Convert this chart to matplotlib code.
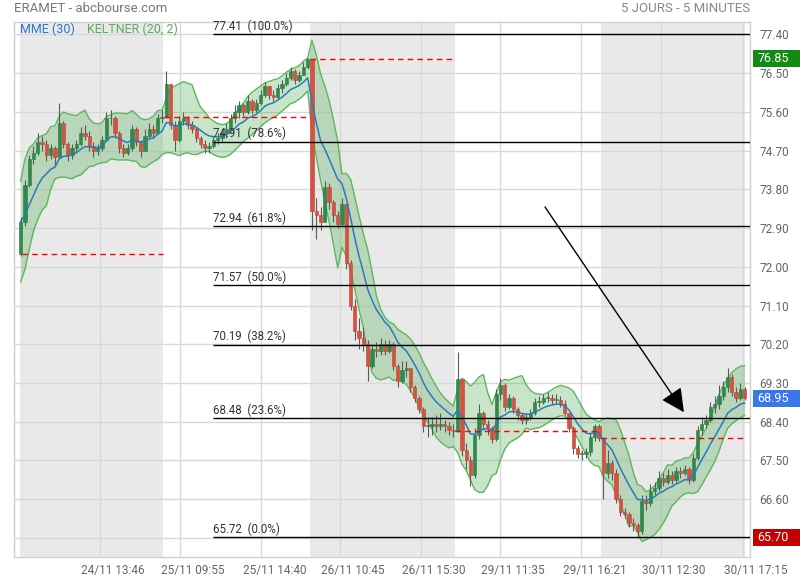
import numpy as np
import matplotlib
matplotlib.use("Agg")
import matplotlib.pyplot as plt
from matplotlib.transforms import ScaledTranslation
from matplotlib.patches import Rectangle

plt.rcParams['font.family'] = ['Roboto', 'DejaVu Sans']

# ---------------- data (15-minute candles, 34 per session) ----------------
PREV_CLOSE = 72.30

C1 = [73.05, 73.90, 74.50, 74.65, 74.90, 74.85, 74.60, 74.75, 74.55, 75.35, 74.85, 74.60, 74.75, 74.85, 75.10, 75.05, 74.80,
      74.70, 74.75, 74.95, 75.45, 75.45, 75.10, 74.75, 74.65, 74.75, 75.20, 74.90, 74.70, 75.05, 75.20, 75.10, 75.45, 75.49]
H1 = [73.15, 74.02, 74.60, 74.80, 75.12, 75.05, 74.95, 74.85, 74.80, 75.80, 75.40, 74.90, 74.85, 74.95, 75.25, 75.30, 75.15,
      74.90, 74.85, 75.05, 75.60, 75.65, 75.50, 75.15, 74.85, 74.85, 75.30, 75.25, 74.95, 75.20, 75.35, 75.30, 75.55, 75.65]
L1 = [72.25, 72.95, 73.85, 74.40, 74.60, 74.70, 74.45, 74.50, 74.35, 74.55, 74.75, 74.45, 74.50, 74.65, 74.80, 74.95, 74.70,
      74.55, 74.60, 74.70, 74.95, 75.30, 75.00, 74.65, 74.55, 74.60, 74.70, 74.80, 74.55, 74.70, 75.00, 75.00, 75.10, 75.35]

C2 = [76.25, 75.30, 74.95, 75.40, 75.45, 75.30, 75.20, 75.00, 74.85, 74.75, 74.80, 74.95, 75.00, 75.10, 75.20, 75.45, 75.60,
      75.75, 75.60, 75.85, 75.65, 75.80, 76.00, 76.20, 76.00, 75.95, 76.15, 76.25, 76.40, 76.55, 76.35, 76.45, 76.65, 76.84]
H2 = [76.55, 76.25, 75.40, 75.50, 75.60, 75.50, 75.40, 75.25, 75.05, 74.95, 74.90, 75.05, 75.10, 75.20, 75.35, 75.55, 75.75,
      75.85, 75.80, 76.00, 75.90, 75.90, 76.10, 76.30, 76.20, 76.10, 76.25, 76.35, 76.50, 76.65, 76.60, 76.55, 76.75, 76.85]
L2 = [75.45, 75.20, 74.70, 74.90, 75.30, 75.20, 75.10, 74.90, 74.75, 74.65, 74.65, 74.75, 74.85, 74.90, 75.00, 75.15, 75.35,
      75.45, 75.50, 75.55, 75.55, 75.60, 75.75, 75.95, 75.90, 75.85, 75.90, 76.05, 76.20, 76.35, 76.25, 76.30, 76.45, 76.60]

C3 = [73.30, 73.20, 73.05, 73.85, 73.50, 73.20, 73.00, 73.45, 72.10, 71.10, 70.50, 70.35, 70.20, 69.70, 70.10, 70.05, 70.20,
      70.05, 70.20, 69.70, 69.35, 69.60, 69.65, 69.20, 68.95, 68.70, 68.30, 68.30, 68.35, 68.30, 68.35, 68.30, 68.20, 68.19]
H3 = [76.84, 73.60, 73.40, 74.00, 73.95, 73.55, 73.30, 73.60, 73.45, 72.15, 71.25, 70.80, 70.60, 70.30, 70.20, 70.25, 70.35,
      70.30, 70.30, 70.25, 69.75, 69.80, 69.80, 69.60, 69.25, 69.00, 68.75, 68.50, 68.50, 68.55, 68.60, 68.45, 68.40, 68.35]
L3 = [72.85, 72.65, 72.85, 73.05, 73.35, 73.05, 72.90, 72.95, 71.95, 71.00, 70.30, 70.10, 70.05, 69.35, 69.65, 69.90, 69.95,
      69.95, 70.00, 69.60, 69.20, 69.30, 69.45, 69.10, 68.85, 68.60, 68.15, 68.05, 68.10, 68.15, 68.20, 68.15, 68.10, 68.05]

C4 = [69.40, 67.75, 67.50, 67.15, 68.10, 68.60, 68.35, 68.25, 68.00, 69.05, 69.25, 68.75, 68.95, 68.70, 68.55, 68.45, 68.50,
      68.60, 68.85, 68.85, 68.95, 68.95, 68.90, 68.90, 68.80, 68.60, 68.25, 67.80, 67.65, 67.65, 67.70, 68.05, 68.30, 68.02]
H4 = [70.02, 69.40, 67.90, 67.60, 68.25, 68.80, 68.65, 68.45, 68.30, 69.15, 69.42, 69.30, 69.05, 69.00, 68.75, 68.60, 68.60,
      68.70, 68.95, 69.00, 69.05, 69.10, 69.05, 69.05, 69.00, 68.90, 68.60, 68.30, 67.85, 67.75, 67.80, 68.15, 68.35, 68.35]
L4 = [68.15, 67.60, 67.30, 66.90, 67.10, 68.00, 68.20, 68.10, 67.90, 67.95, 68.90, 68.65, 68.70, 68.60, 68.45, 68.35, 68.35,
      68.45, 68.55, 68.75, 68.80, 68.85, 68.80, 68.80, 68.75, 68.55, 68.15, 67.65, 67.55, 67.50, 67.55, 67.60, 67.95, 67.95]

C5 = [67.20, 67.45, 67.20, 66.60, 66.30, 66.25, 66.05, 66.00, 65.85, 66.55, 66.50, 66.80, 66.85, 67.10, 67.00, 67.15, 67.05,
      67.25, 67.20, 67.30, 67.05, 67.55, 68.20, 68.35, 68.45, 68.75, 68.80, 69.00, 69.20, 69.45, 69.10, 68.95, 69.15, 68.95]
H5 = [68.05, 67.75, 67.50, 67.30, 66.70, 66.40, 66.30, 66.15, 66.05, 66.70, 66.70, 66.95, 67.00, 67.25, 67.20, 67.30, 67.25,
      67.35, 67.35, 67.40, 67.35, 67.65, 68.30, 68.50, 68.55, 68.85, 69.00, 69.25, 69.35, 69.65, 69.50, 69.20, 69.30, 69.20]
L5 = [66.60, 67.10, 67.05, 66.50, 66.20, 66.15, 65.95, 65.85, 65.70, 65.80, 66.35, 66.45, 66.70, 66.80, 66.90, 66.95, 66.95,
      67.00, 67.10, 67.15, 66.95, 67.00, 67.50, 68.10, 68.25, 68.40, 68.60, 68.70, 68.90, 69.10, 69.00, 68.85, 68.90, 68.90]

FIB_LEVELS = [77.41, 74.91, 72.94, 71.57, 70.19, 68.48, 65.72]
FIB_PCTS = [100.0, 78.6, 61.8, 50.0, 38.2, 23.6, 0.0]

XTICK_BARS = [57.2, 113, 170, 225, 282, 337, 394.2, 450, 507]
XTICK_LABELS = ['24/11 13:46', '25/11 09:55', '25/11 14:40', '26/11 10:45', '26/11 15:30',
                '29/11 11:35', '29/11 16:21', '30/11 12:30', '30/11 17:15']
YTICKS = [65.70 + 0.9 * k for k in range(14)]

ARROW_FROM = (368.7, 73.39)
ARROW_TO = (466.0, 68.62)

# ---------------- derived ----------------
close = np.array(C1 + C2 + C3 + C4 + C5)
high = np.array(H1 + H2 + H3 + H4 + H5)
low = np.array(L1 + L2 + L3 + L4 + L5)
opn = np.concatenate([[PREV_CLOSE], close[:-1]])
n = len(close)
BARS_PER_CANDLE = 3
PER_DAY = 34
xc = np.arange(n) * BARS_PER_CANDLE + 1.5


def ema(x, span):
    a = 2.0 / (span + 1)
    out = np.empty_like(x, dtype=float)
    out[0] = x[0]
    for i in range(1, len(x)):
        out[i] = a * x[i] + (1 - a) * out[i - 1]
    return out


def sma(x, w):
    out = np.empty_like(x, dtype=float)
    for i in range(len(x)):
        out[i] = x[max(0, i - w + 1):i + 1].mean()
    return out


# MME(30) on 5-min bars ~ span 10 on 15-min candles; Keltner(20) ~ 7 candles
mme = ema(close, 10)
prevc = np.concatenate([[close[0]], close[:-1]])
tr = np.maximum(high - low, np.maximum(np.abs(high - prevc), np.abs(low - prevc)))
tr[0] = high[0] - low[0]
typ = (high + low + close) / 3
mid = sma(typ, 7)
rng = sma(tr, 7)
KMULT = 1.3
upper = mid + KMULT * rng
lower = mid - KMULT * rng

# ---------------- figure ----------------
W, H = 800, 580
fig = plt.figure(figsize=(W / 100, H / 100), dpi=100)
ax = fig.add_axes([14 / W, (H - 557) / H, (750 - 14) / W, (557 - 22) / H])
ax.set_xlim(-3.15, 512.25)
ax.set_ylim(65.255, 77.69)

for a, b in [(1, 101), (204, 305.5), (408, 509)]:
    ax.axvspan(a, b, color='#e9e9e9', zorder=0, lw=0)

ax.set_yticks(YTICKS)
# lowest tick label is hidden under the red "low" box in the original
ax.set_yticklabels([''] + [f'{v:.2f}' for v in YTICKS[1:]])
ax.set_xticks(XTICK_BARS)
ax.set_xticklabels(XTICK_LABELS)
ax.grid(True, color='#d8d8d8', lw=1, zorder=1)
ax.set_axisbelow(True)
ax.yaxis.tick_right()
ax.tick_params(axis='both', length=0, labelsize=8.5, colors='#666666')
ax.tick_params(axis='y', pad=7)
ax.tick_params(axis='x', pad=5)
for lab in ax.get_xticklabels():
    lab.set_transform(lab.get_transform() + ScaledTranslation(13 / 100, 0, fig.dpi_scale_trans))
for s in ax.spines.values():
    s.set_color('#d0d0d0')
    s.set_linewidth(1)

# Keltner band
ax.fill_between(xc, lower, upper, color=(0.31, 0.67, 0.31), alpha=0.3, lw=0, zorder=2)
ax.plot(xc, upper, color='#5cb85c', lw=1, zorder=2.5)
ax.plot(xc, lower, color='#5cb85c', lw=1, zorder=2.5)

# candles
up = close >= opn
ax.vlines(xc, low, high, color='#5a5a5a', lw=0.8, zorder=3)
body_bottom = np.minimum(opn, close)
body_h = np.maximum(np.abs(close - opn), 0.02)
ax.bar(xc[up], body_h[up], bottom=body_bottom[up], width=2.3, color='#2f8a4c',
       edgecolor='#2a7a40', lw=0.4, zorder=4)
ax.bar(xc[~up], body_h[~up], bottom=body_bottom[~up], width=2.3, color='#d9503f',
       edgecolor='#b8453a', lw=0.4, zorder=4)

# MME
ax.plot(xc, mme, color='#2a7bbd', lw=1.1, zorder=5)

# previous close dashed lines
prev_levels = [PREV_CLOSE] + [close[PER_DAY * d - 1] for d in range(1, 5)]
for d, lvl in enumerate(prev_levels):
    x0 = d * 102 + (2.5 if d == 0 else 0)
    ax.hlines(lvl, x0, (d + 1) * 102 - 1, colors='red', lw=1, linestyles=(0, (4, 3)), zorder=5)

# Fibonacci lines
fx0 = 136.2
for lvl, pct in zip(FIB_LEVELS, FIB_PCTS):
    ax.hlines(lvl, fx0, 512.25, colors='black', lw=1, zorder=6)
    ax.text(fx0, lvl + 0.03, f'{lvl:.2f}  ({pct:.1f}%)', fontsize=8.3, color='#333333',
            va='bottom', ha='left', zorder=6)

# arrow
ax.annotate('', xy=ARROW_TO, xytext=ARROW_FROM,
            arrowprops=dict(arrowstyle='-|>,head_length=0.8,head_width=0.4', color='black',
                            lw=1, mutation_scale=18, shrinkA=0, shrinkB=0), zorder=7)

# header texts
fig.text(14 / W, 1 - 9 / H, 'ERAMET - abcbourse.com', fontsize=9.5, color='#777777', va='center', ha='left')
fig.text(750 / W, 1 - 9 / H, '5 JOURS - 5 MINUTES', fontsize=9.5, color='#888888', va='center', ha='right')
fig.text(20 / W, 1 - 29 / H, 'MME (30)', fontsize=9, color='#2a77c9', va='center', ha='left')
fig.text(87 / W, 1 - 29 / H, 'KELTNER (20, 2)', fontsize=9, color='#5aac5a', va='center', ha='left')

# value boxes on the right
fig.canvas.draw()
for val, col in [(high.max(), '#138a13'), (close[-1], '#3b78e7'), (low.min(), '#c40000')]:
    ypx = ax.transData.transform((0, val))[1]
    fig.patches.append(Rectangle((753 / W, (ypx - 8.5) / H), 47 / W, 17 / H, transform=fig.transFigure,
                                 facecolor=col, edgecolor='none', zorder=5))
    fig.text(757 / W, ypx / H, f'{val:.2f}', fontsize=9, color='white', va='center', ha='left', zorder=6)

fig.savefig('out.png', dpi=100)
